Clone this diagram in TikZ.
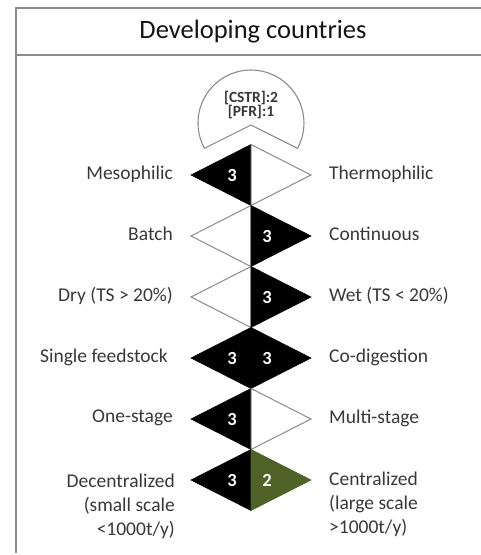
\documentclass[tikz,border=0pt]{standalone}
\usepackage{fontspec}
\setmainfont{Carlito}
\definecolor{labelgray}{HTML}{383838}
\definecolor{edgegray}{HTML}{8A8A8A}
\definecolor{framegray}{HTML}{8C8C8C}
\definecolor{olivegreen}{HTML}{4F6228}
\definecolor{titleink}{HTML}{141414}

% one row of the chart: two triangles meeting on the centre line
% #1 name, #2 centre y, #3 style of the left half, #4 style of the right half
\newcommand\halfpair[4]{%
  \coordinate (#1-t) at (251,{#2-30.5});
  \coordinate (#1-b) at (251,{#2+30.5});
  \coordinate (#1-l) at (191,#2);
  \coordinate (#1-r) at (311,#2);
  \path[#3] (#1-t) -- (#1-l) -- (#1-b) -- cycle;
  \path[#4] (#1-t) -- (#1-r) -- (#1-b) -- cycle;
}

\begin{document}
\begin{tikzpicture}[x=1pt,y=-1pt,
  lbl/.style={font=\fontsize{19.5}{24}\selectfont, text=labelgray, inner sep=0pt},
  lleft/.style={lbl, anchor=east, align=right},
  lright/.style={lbl, anchor=west, align=left},
  num/.style={font=\bfseries\fontsize{18.5}{18.5}\selectfont, text=white, inner sep=0pt},
  dark/.style={fill=black, draw=black, line width=0.6pt},
  light/.style={fill=white, draw=edgegray, line width=1pt},
  olive/.style={fill=olivegreen, draw=olivegreen, line width=0.6pt},
  frame/.style={draw=framegray, line width=2pt},
  capshape/.style={fill=white, draw=edgegray, line width=1.1pt}
]
\useasboundingbox (0,0) rectangle (481,555);

% frame and header
\draw[frame] (16,553) -- (16,8) -- (481,8);
\draw[frame] (16,55) -- (481,55);
\node[font=\fontsize{26.5}{30}\selectfont, text=titleink, inner sep=0pt] (title) at (253,32) {Developing countries};

% reactor cap with notch above the first row
\path[capshape] (204.4,148.3) arc[start angle=151.5, end angle=388.5, radius=53]
  -- (251,125) -- cycle;
\node[font=\bfseries\fontsize{15.5}{14.5}\selectfont, text=labelgray, align=center, inner sep=0pt]
  (cap) at (251,105) {[CSTR]:2\\{}[PFR]:1};

% rows
\halfpair{r1}{175}{dark}{light}
\halfpair{r2}{236}{light}{dark}
\halfpair{r3}{297}{light}{dark}
\halfpair{r4}{358}{dark}{dark}
\halfpair{r5}{419}{dark}{light}
\halfpair{r6}{480}{dark}{olive}

% scores
\node[num] (n1) at (232,175) {3};
\node[num] (n2) at (267,236) {3};
\node[num] (n3) at (267,297) {3};
\node[num] (n4a) at (232,358) {3};
\node[num] (n4b) at (267,358) {3};
\node[num] (n5) at (232,419) {3};
\node[num] (n6a) at (232,480) {3};
\node[num] (n6b) at (267,480) {2};

% option labels
\node[lleft] (meso) at (173,174) {Mesophilic};
\node[lright] (thermo) at (329,174) {Thermophilic};
\node[lleft] (batch) at (173,234) {Batch};
\node[lright] (cont) at (329,234) {Continuous};
\node[lleft] (dry) at (173,296) {Dry (TS > 20\%)};
\node[lright] (wet) at (329,296) {Wet (TS < 20\%)};
\node[lleft] (single) at (168,357) {Single feedstock};
\node[lright] (codig) at (329,357) {Co-digestion};
\node[lleft] (one) at (173,418) {One-stage};
\node[lright] (multi) at (329,418) {Multi-stage};
\node[lleft] (decen) at (175,506) {Decentralized\\(small scale\\<1000t/y)};
\node[lright] (cen) at (329,504) {Centralized\\(large scale\\>1000t/y)};
\end{tikzpicture}
\end{document}
